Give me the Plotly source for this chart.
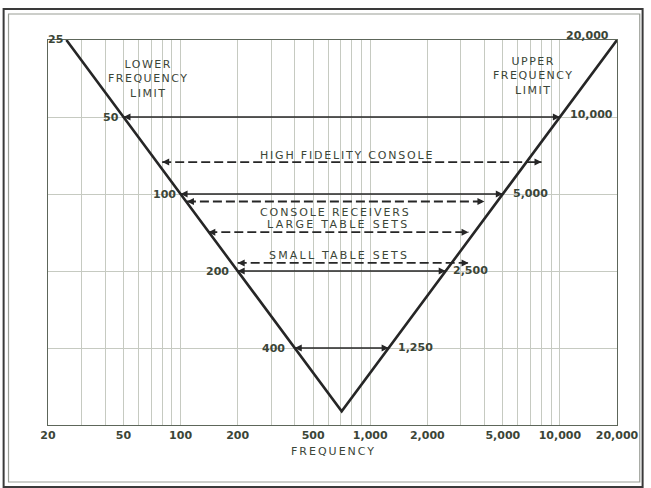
import math
import plotly.graph_objects as go

# ---------------- data ----------------
x_grid = [20, 30, 40, 50, 60, 70, 80, 90,
          100, 200, 300, 400, 500, 600, 700, 800, 900,
          1000, 2000, 3000, 4000, 5000, 6000, 7000, 8000, 9000,
          10000, 20000]
x_tick_vals = [20, 50, 100, 200, 500, 1000, 2000, 5000, 10000, 20000]
x_tick_text = ["20", "50", "100", "200", "500", "1,000", "2,000", "5,000", "10,000", "20,000"]
y_grid = [50, 100, 200, 400]

# V-shaped limit line (lower limit on left branch, upper limit on right branch)
v_freq = [25, 707, 20000]
v_level = [25, 707, 25]

# solid ranges: lower / upper frequency limit pairs
limit_low = [50, 100, 200, 400]
limit_high = [10000, 5000, 2500, 1250]

# dashed ranges: typical receivers
receiver_names = ["HIGH FIDELITY CONSOLE", "CONSOLE RECEIVERS", "LARGE TABLE SETS", "SMALL TABLE SETS"]
receiver_low = [80, 108, 140, 200]
receiver_high = [8000, 4000, 3300, 3300]
receiver_level = [75, 107, 141, 186]

# ---------------- style ----------------
INK = "#262626"
TXT = "#3b4537"
GRID = "#c6cac1"
FONT = "DejaVu Sans"
X0, X1 = 20, 20000
Y_BOTTOM, Y_TOP = 800, 25
L = math.log10

fig = go.Figure()

fig.add_trace(go.Scatter(x=v_freq, y=v_level, mode="lines",
                         line=dict(color=INK, width=2.6), hoverinfo="skip"))

for lo, hi in zip(limit_low, limit_high):
    fig.add_trace(go.Scatter(x=[lo, hi], y=[lo, lo], mode="lines+markers",
                             line=dict(color=INK, width=1.6),
                             marker=dict(symbol=["arrow-left", "arrow-right"], size=7, color=INK),
                             hoverinfo="skip"))

for lo, hi, lv in zip(receiver_low, receiver_high, receiver_level):
    fig.add_trace(go.Scatter(x=[lo, hi], y=[lv, lv], mode="lines+markers",
                             line=dict(color=INK, width=1.8, dash="9px,4px"),
                             marker=dict(symbol=["arrow-left", "arrow-right"], size=7, color=INK),
                             hoverinfo="skip"))

ann = []
shapes = []
numfont = dict(family=FONT, size=11, color=TXT, weight="bold")
wordfont = dict(family=FONT, size=11, color=TXT)


def sp(t, s=1.5):
    return '<span style="letter-spacing:%spx">%s</span>' % (s, t)


def paper_x(f):
    return (L(f) - L(X0)) / (L(X1) - L(X0))


def paper_y(v):
    return (L(Y_BOTTOM) - L(v)) / (L(Y_BOTTOM) - L(Y_TOP))


def text_w(t):
    return sum(4.2 if c == "," else 7.7 for c in t)


def mask(xa, ya, x0, x1, y0, y1):
    shapes.append(dict(type="rect", xref="paper", yref="paper", layer="between",
                       xsizemode="pixel", ysizemode="pixel", xanchor=xa, yanchor=ya,
                       x0=x0, x1=x1, y0=y0, y1=y1,
                       fillcolor="white", line=dict(width=0)))


def num_label(f, v, text, side, dx, dy):
    ann.append(dict(x=L(f), y=L(v), text=text, xanchor=side, yanchor="middle",
                    xshift=dx, yshift=dy, showarrow=False, font=numfont))
    w = text_w(text)
    if side == "right":
        mask(paper_x(f), paper_y(v), dx - w - 2, dx + 1, dy - 6, dy + 6)
    else:
        mask(paper_x(f), paper_y(v), dx - 1, dx + w + 2, dy - 6, dy + 6)


# value labels on the V
num_label(v_freq[0], v_level[0], "25", "right", -1, 1)
num_label(v_freq[-1], v_level[-1], "20,000", "right", -6, 5)
for lo, dx in zip(limit_low, [-2, -3, -7, -8]):
    num_label(lo, lo, f"{lo:,}", "right", dx, 0)
for lo, hi, dx, dy in zip(limit_low, limit_high, [8, 8, 5, 7], [3, 1, 1, 1]):
    num_label(hi, lo, f"{hi:,}", "left", dx, dy)


def word_label(xp, yp, text, s, w, h):
    ann.append(dict(x=xp, y=yp, xref="paper", yref="paper", text=sp(text, s),
                    xanchor="center", yanchor="middle", showarrow=False, font=wordfont))
    mask(xp, yp, -w / 2, w / 2, -h / 2, h / 2)


word_label(0.177, 0.899, "LOWER<br>FREQUENCY<br>LIMIT", 1.5, 82, 42)
word_label(0.854, 0.906, "UPPER<br>FREQUENCY<br>LIMIT", 1.5, 82, 42)
label_pos = [(0.526, 0.701, 1.8), (0.505, 0.553, 1.9), (0.51, 0.522, 2.3), (0.511, 0.439, 2.2)]
for name, (xp, yp, s) in zip(receiver_names, label_pos):
    n = len(name)
    word_label(xp, yp, name, s, 7.0 * n + s * n + 4, 11)

ann.append(dict(x=0.502, y=-0.07, xref="paper", yref="paper", text=sp("FREQUENCY", 2),
                xanchor="center", yanchor="middle", showarrow=False, font=wordfont))

shapes += [
    dict(type="rect", xref="paper", yref="paper", x0=-0.078, x1=1.045, y0=-0.161, y1=1.0805,
         line=dict(color="#3a3a3a", width=2)),
    dict(type="rect", xref="paper", yref="paper", x0=-0.0694, x1=1.040, y0=-0.148, y1=1.0675,
         line=dict(color="#9a9e96", width=1.2)),
]

fig.update_layout(
    width=651, height=488,
    margin=dict(l=48, r=27, t=40, b=63),
    paper_bgcolor="white", plot_bgcolor="white",
    showlegend=False,
    annotations=ann, shapes=shapes,
    xaxis=dict(type="log", range=[L(X0), L(X1)],
               tickmode="array", tickvals=x_tick_vals, ticktext=x_tick_text,
               showgrid=False, ticks="", tickfont=numfont,
               minor=dict(tickmode="array", tickvals=x_grid, showgrid=True,
                          gridcolor=GRID, gridwidth=1, ticks=""),
               showline=True, linecolor="#5d665a", linewidth=1.3, mirror=True, zeroline=False),
    yaxis=dict(type="log", range=[L(Y_BOTTOM), L(Y_TOP)],
               tickmode="array", tickvals=y_grid, showticklabels=False, ticks="",
               showgrid=True, gridcolor=GRID, gridwidth=1,
               showline=True, linecolor="#5d665a", linewidth=1.3, mirror=True, zeroline=False),
)

fig.write_html("out.html", config={"displayModeBar": False},
               post_script="document.body.style.margin='0';")
